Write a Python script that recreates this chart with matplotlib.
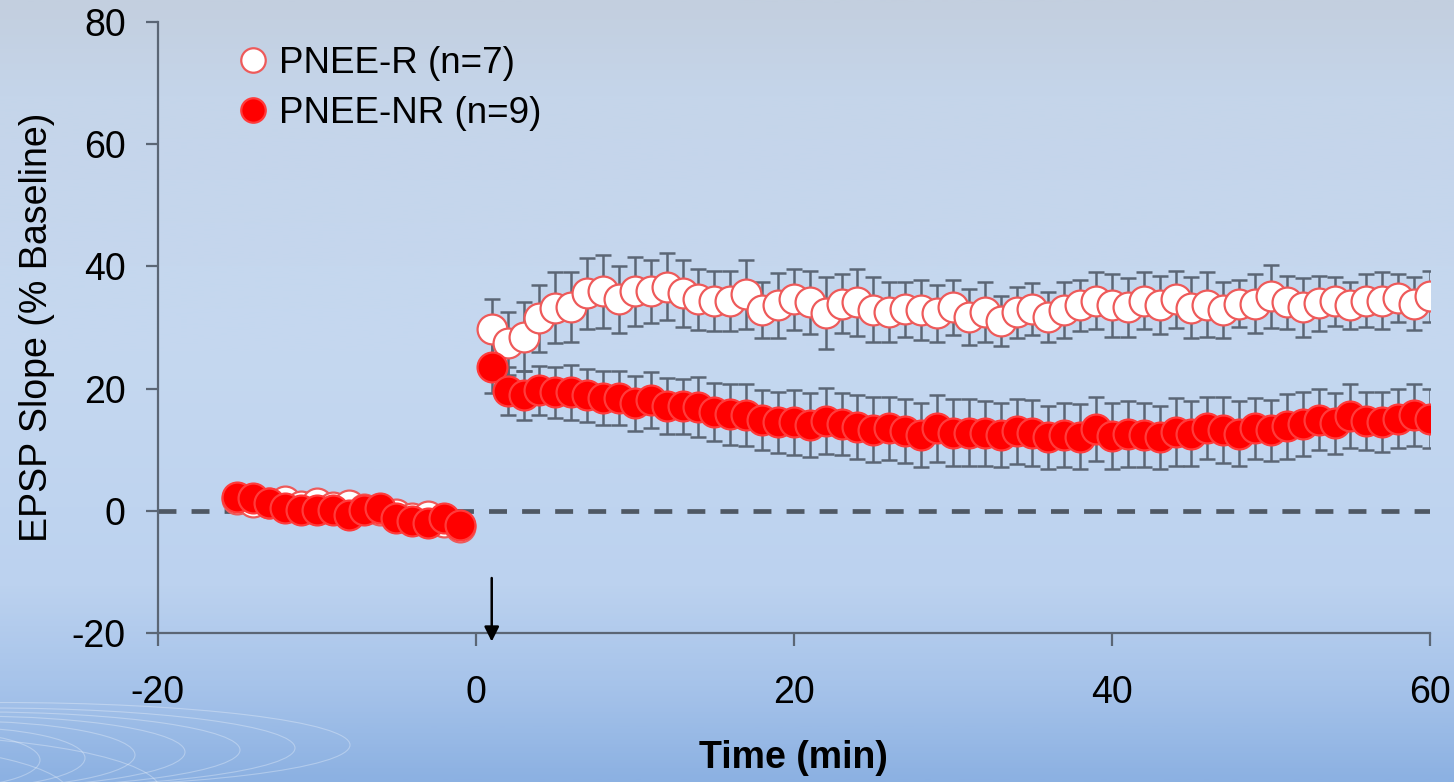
import numpy as np
import matplotlib
matplotlib.use("Agg")
import matplotlib.pyplot as plt
from matplotlib.colors import LinearSegmentedColormap
from matplotlib.patches import Ellipse

plt.rcParams['font.family'] = ['Liberation Sans', 'DejaVu Sans']
plt.rcParams['axes.unicode_minus'] = False

# baseline (min -15 .. -1)
t_base = [-15, -14, -13, -12, -11, -10, -9, -8, -7, -6, -5, -4, -3, -2, -1]
r_base = [2.0, 1.5, 1.2, 1.6, 0.8, 1.2, 0.6, 1.0, 0.3, 0.2, -0.6, -1.2, -0.9, -1.8, -2.6]
nr_base = [2.3, 2.1, 1.3, 0.4, 0.2, 0.2, 0.2, -0.7, 0.2, 0.4, -1.2, -1.7, -2.0, -1.2, -2.3]

# after stimulation (min 1 .. 60)
t_post = list(range(1, 61))
r_post = [29.7, 27.4, 28.5, 31.5, 33.2, 33.3, 35.6, 35.9, 34.6, 35.9,
          35.9, 36.7, 35.6, 34.6, 34.4, 34.4, 35.4, 32.9, 33.6, 34.6,
          34.1, 32.3, 33.9, 34.1, 32.9, 32.6, 33.0, 32.9, 32.3, 33.3,
          31.7, 32.6, 31.1, 32.5, 33.0, 31.7, 32.9, 33.6, 34.4, 33.6,
          33.3, 34.4, 33.7, 34.6, 33.2, 33.7, 32.9, 33.9, 33.9, 35.1,
          34.1, 33.3, 34.0, 34.3, 33.6, 34.4, 34.4, 34.8, 33.9, 35.1]
r_sem = [4.9, 5.2, 5.6, 5.5, 5.8, 5.7, 5.8, 6.0, 5.5, 5.7,
         5.2, 5.5, 5.5, 5.0, 4.9, 4.9, 5.6, 4.6, 5.3, 5.0,
         5.2, 5.9, 4.8, 5.5, 5.3, 4.9, 4.5, 4.9, 4.7, 4.5,
         4.6, 4.9, 4.1, 4.2, 4.3, 4.1, 4.6, 4.2, 4.6, 5.1,
         4.8, 4.6, 4.8, 4.7, 5.0, 5.3, 4.6, 3.9, 4.8, 5.2,
         4.4, 4.8, 4.5, 4.0, 3.9, 4.3, 4.6, 3.9, 4.3, 4.2]
nr_post = [23.5, 19.6, 18.9, 19.7, 19.4, 19.4, 18.9, 18.5, 18.5, 17.6,
           18.1, 17.2, 17.1, 17.0, 16.2, 15.8, 15.7, 14.9, 14.5, 14.5,
           14.0, 14.7, 14.2, 13.7, 13.3, 13.5, 13.1, 12.4, 13.5, 12.8,
           12.8, 12.7, 12.4, 13.0, 12.7, 12.0, 12.4, 12.1, 13.4, 12.2,
           12.5, 12.4, 12.0, 12.9, 12.6, 13.6, 13.3, 12.6, 13.5, 13.2,
           13.8, 14.2, 14.9, 14.3, 15.5, 14.7, 14.6, 15.1, 15.7, 15.1]
nr_sem = [4.3, 4.0, 4.0, 4.0, 4.2, 4.5, 4.3, 4.4, 4.4, 4.5,
          4.6, 4.6, 4.5, 4.9, 4.7, 5.0, 5.1, 4.9, 5.0, 5.3,
          5.2, 5.4, 5.1, 5.2, 5.3, 5.2, 5.2, 5.3, 5.5, 5.5,
          5.5, 5.3, 5.3, 5.3, 5.4, 5.2, 5.3, 5.3, 5.3, 5.4,
          5.4, 5.2, 5.2, 5.5, 5.3, 5.1, 5.4, 5.3, 5.0, 5.0,
          5.3, 5.2, 5.0, 5.0, 5.3, 4.7, 4.9, 4.8, 5.1, 4.8]

fig = plt.figure(figsize=(14.54, 7.82), dpi=100)

# slide-style background gradient
bg = fig.add_axes([0, 0, 1, 1], zorder=-10)
grad_cmap = LinearSegmentedColormap.from_list(
    'bg', [(0.0, '#c3cfdf'), (0.12, '#c5d5ea'), (0.45, '#c5d8f0'),
           (0.75, '#bcd2ef'), (0.88, '#a6c3ea'), (1.0, '#8cb1e2')])
bg.imshow(np.linspace(0, 1, 400).reshape(-1, 1), aspect='auto', cmap=grad_cmap,
          extent=[0, 1454, 782, 0])
for w, h, cx, cy in [(700, 85, 0, 745), (610, 80, -10, 748), (520, 76, -20, 750),
                     (430, 72, -30, 752), (350, 68, -40, 755), (270, 62, -50, 758),
                     (200, 56, -60, 760), (560, 110, -120, 790), (420, 100, -140, 795)]:
    bg.add_patch(Ellipse((cx, cy), w, h, fill=False, ec='white', lw=0.8, alpha=0.3))
bg.set_xlim(0, 1454)
bg.set_ylim(782, 0)
bg.axis('off')

ax = fig.add_axes([0.1085, 0.1905, 0.875, 0.7815])
ax.set_facecolor('none')

axis_col = '#5b6675'
t_all = t_base + t_post
r_all = r_base + r_post
nr_all = nr_base + nr_post

ax.axhline(0, color='#4f5864', lw=3.4, dashes=(3.8, 3.2), zorder=1)

ax.errorbar(t_post, r_post, yerr=r_sem, fmt='none', ecolor=axis_col,
            elinewidth=1.8, capsize=5.5, capthick=1.8, zorder=2)
ax.errorbar(t_post, nr_post, yerr=nr_sem, fmt='none', ecolor=axis_col,
            elinewidth=1.8, capsize=5.5, capthick=1.8, zorder=2)

ax.plot(t_all, r_all, 'o', ms=21.5, mfc='white', mec='#ee5a5a', mew=1.6,
        label='PNEE-R (n=7)', zorder=3)
ax.plot(t_all, nr_all, 'o', ms=21.5, mfc='#ff0000', mec='#ff3b3b', mew=1.6,
        label='PNEE-NR (n=9)', zorder=4)

# stimulation arrow
ax.annotate('', xy=(1, -21.4), xytext=(1, -11),
            arrowprops=dict(arrowstyle='-|>', color='black', lw=1.8,
                            mutation_scale=22, shrinkA=0, shrinkB=0),
            annotation_clip=False, zorder=6)

ax.set_xlim(-20, 60)
ax.set_ylim(-20, 80)
ax.set_xticks([-20, 0, 20, 40, 60])
ax.set_yticks([-20, 0, 20, 40, 60, 80])

for s in ['top', 'right']:
    ax.spines[s].set_visible(False)
for s in ['left', 'bottom']:
    ax.spines[s].set_color(axis_col)
    ax.spines[s].set_linewidth(1.6)

ax.tick_params(axis='both', direction='out', length=9, width=1.6,
               color=axis_col, labelsize=27)
ax.tick_params(axis='x', pad=21)
ax.tick_params(axis='y', pad=14)

ax.set_ylabel('EPSP Slope (% Baseline)', fontsize=27, labelpad=12)
ax.set_xlabel('Time (min)', fontsize=27, fontweight='bold', labelpad=21)

ax.legend(loc='upper left', bbox_to_anchor=(0.03, 1.015), frameon=False,
          fontsize=26.5, markerscale=0.82, handletextpad=0.05,
          labelspacing=0.42, handlelength=1.3)

fig.savefig('out.png', dpi=100)
